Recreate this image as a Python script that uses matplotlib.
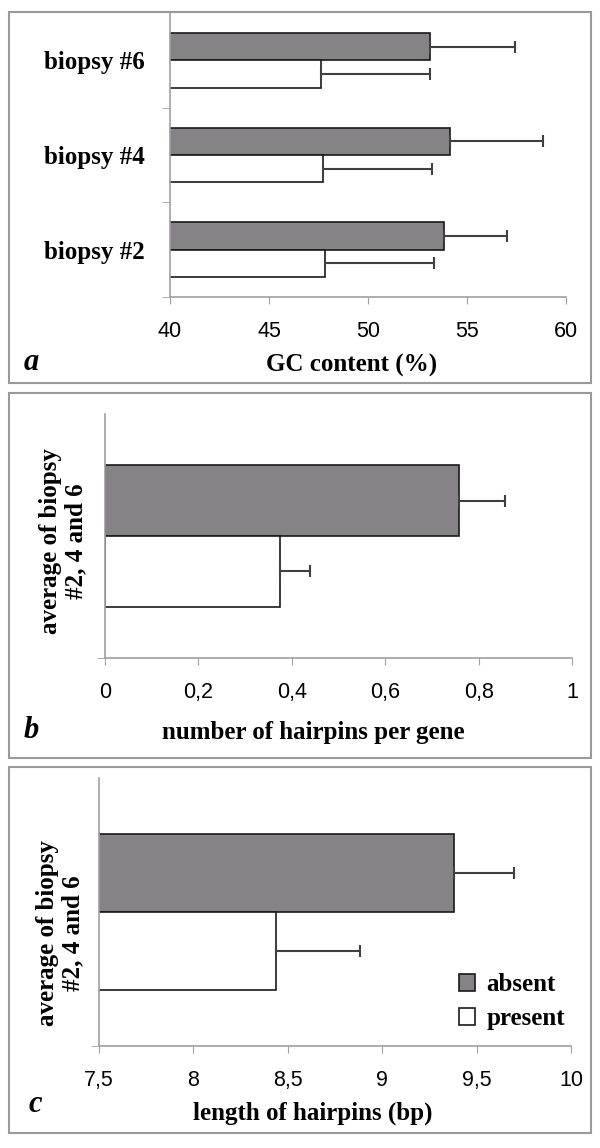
import matplotlib
matplotlib.use("Agg")
import matplotlib.pyplot as plt
from matplotlib.patches import Rectangle, Patch

# panel a: GC content per biopsy
biopsies = ['biopsy #2', 'biopsy #4', 'biopsy #6']
gc_absent = [53.85, 54.15, 53.15]
gc_absent_err = [3.15, 4.7, 4.25]
gc_present = [47.85, 47.75, 47.65]
gc_present_err = [5.5, 5.5, 5.5]

# panel b: number of hairpins per gene
hp_absent = 0.757
hp_absent_err = 0.10
hp_present = 0.375
hp_present_err = 0.064

# panel c: length of hairpins
len_absent = 9.38
len_absent_err = 0.32
len_present = 8.44
len_present_err = 0.44

series = ['absent', 'present']
avg_label = 'average of biopsy\n#2, 4 and 6'

W, H = 600, 1148
GRAY = '#858385'
SPINE = '#a0a0a0'
ERR = '#404040'
serif = 'Liberation Serif'
sans = 'Liberation Sans'

fig = plt.figure(figsize=(W / 100, H / 100), dpi=100)


def px_axes(l, t, r, b):
    return fig.add_axes([l / W, 1 - b / H, (r - l) / W, (b - t) / H])


def style(ax, xlim, xticks, xfmt):
    ax.set_xlim(*xlim)
    ax.set_xticks(xticks)
    ax.set_xticklabels([xfmt(v) for v in xticks], family=sans, fontsize=15.5)
    for s in ['top', 'right']:
        ax.spines[s].set_visible(False)
    for s in ['left', 'bottom']:
        ax.spines[s].set_color(SPINE)
        ax.spines[s].set_linewidth(1.2)
    ax.tick_params(axis='x', length=5, color=SPINE, pad=12)
    ax.tick_params(axis='y', which='major', length=0, pad=18)
    ax.tick_params(axis='y', which='minor', length=6, color=SPINE)


def bars(ax, y, absent, aerr, present, perr, h=0.29):
    ax.barh([v + h / 2 for v in y], absent, height=h, color=GRAY,
            edgecolor='#1a1a1a', linewidth=1.2,
            xerr=[[0] * len(y), aerr],
            error_kw=dict(ecolor=ERR, elinewidth=1.5, capsize=4, capthick=1.5))
    ax.barh([v - h / 2 for v in y], present, height=h, color='white',
            edgecolor='#1a1a1a', linewidth=1.2,
            xerr=[[0] * len(y), perr],
            error_kw=dict(ecolor=ERR, elinewidth=1.5, capsize=4, capthick=1.5))


def comma(v):
    return ('%g' % v).replace('.', ',')


# panel boxes
for (t, b) in [(12, 383), (393, 758), (767, 1133)]:
    fig.patches.append(Rectangle((9 / W, 1 - b / H), 582 / W, (b - t) / H,
                                 transform=fig.transFigure, fill=False,
                                 edgecolor='#9a9a9a', linewidth=1.5))

# panel a
ax = px_axes(170, 13, 566, 297)
pos = list(range(len(biopsies)))
bars(ax, pos, gc_absent, gc_absent_err, gc_present, gc_present_err)
ax.set_ylim(-0.5, 2.5)
style(ax, (40, 60), [40, 45, 50, 55, 60], lambda v: '%d' % v)
ax.set_yticks(pos)
ax.set_yticklabels(biopsies, family=serif, fontweight='bold', fontsize=18)
ax.set_yticks([-0.5, 0.5, 1.5], minor=True)
fig.text(352 / W, 1 - 365 / H, 'GC content (%)', family=serif,
         fontweight='bold', fontsize=18, ha='center', va='center')
fig.text(31 / W, 1 - 363 / H, 'a', family=serif, fontweight='bold',
         style='italic', fontsize=22, ha='center', va='center')

# panel b
ax = px_axes(105, 414, 572, 658)
bars(ax, [0], [hp_absent], [hp_absent_err], [hp_present], [hp_present_err])
ax.set_ylim(-0.5, 0.5)
style(ax, (0, 1), [0, 0.2, 0.4, 0.6, 0.8, 1], comma)
ax.set_yticks([])
ax.set_yticks([-0.5], minor=True)
fig.text(313 / W, 1 - 732 / H, 'number of hairpins per gene', family=serif,
         fontweight='bold', fontsize=18, ha='center', va='center')
fig.text(63 / W, 1 - 541 / H, avg_label, family=serif, fontweight='bold',
         fontsize=18, rotation=90, ha='center', va='center',
         multialignment='center', linespacing=1.1)
fig.text(31 / W, 1 - 731 / H, 'b', family=serif, fontweight='bold',
         style='italic', fontsize=22, ha='center', va='center')

# panel c
ax = px_axes(99, 778, 571, 1046)
bars(ax, [0], [len_absent], [len_absent_err], [len_present], [len_present_err])
ax.set_ylim(-0.5, 0.5)
style(ax, (7.5, 10), [7.5, 8, 8.5, 9, 9.5, 10], comma)
ax.set_yticks([])
ax.set_yticks([-0.5], minor=True)
fig.text(313 / W, 1 - 1113 / H, 'length of hairpins (bp)', family=serif,
         fontweight='bold', fontsize=18, ha='center', va='center')
fig.text(60 / W, 1 - 933 / H, avg_label, family=serif, fontweight='bold',
         fontsize=18, rotation=90, ha='center', va='center',
         multialignment='center', linespacing=1.1)
fig.text(35 / W, 1 - 1104 / H, 'c', family=serif, fontweight='bold',
         style='italic', fontsize=22, ha='center', va='center')

handles = [Patch(facecolor=GRAY, edgecolor='#1a1a1a', linewidth=1.2),
           Patch(facecolor='white', edgecolor='#1a1a1a', linewidth=1.2)]
fig.legend(handles, series, loc='upper left',
           bbox_to_anchor=(459 / W, 1 - 973 / H), frameon=False,
           borderpad=0, borderaxespad=0, handlelength=0.65, handleheight=0.65,
           handletextpad=0.45, labelspacing=0.45,
           prop=dict(family=serif, weight='bold', size=18))

fig.savefig('out.png', dpi=100, facecolor='white')
